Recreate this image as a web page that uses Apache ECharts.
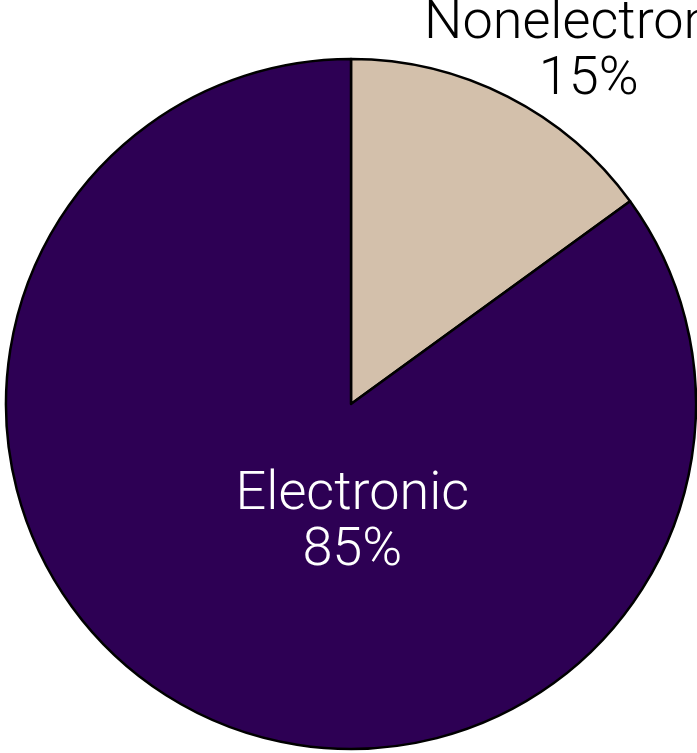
<!DOCTYPE html>
<html>
<head>
<meta charset="utf-8">
<script src="https://cdn.jsdelivr.net/npm/echarts@6/dist/echarts.min.js"></script>
<style>
  html, body { margin: 0; padding: 0; background: #ffffff; }
  #chart { width: 697px; height: 753px; }
</style>
</head>
<body>
<div id="chart"></div>
<script>
// Share of transactions by type
const categories = ['Nonelectronic', 'Electronic'];
const shares = [15, 85];
const sliceColors = ['#D3C0AB', '#2D0054'];
const labelColors = ['#000000', '#ffffff'];
// label offsets from the slice's default inside-label anchor
const labelOffsets = [[158, -195], [81, -37]];

const chart = echarts.init(document.getElementById('chart'), null, { renderer: 'canvas' });

chart.setOption({
  animation: false,
  backgroundColor: '#ffffff',
  series: [{
    type: 'pie',
    center: [351, 404],
    radius: [0, 345],
    startAngle: 90,
    clockwise: true,
    avoidLabelOverlap: false,
    labelLine: { show: false },
    emphasis: { disabled: true },
    data: categories.map((name, i) => ({
      name: name,
      value: shares[i],
      itemStyle: { color: sliceColors[i], borderColor: '#000000', borderWidth: 2.5 },
      label: {
        show: true,
        position: 'inside',
        formatter: '{b}\n{d}%',
        offset: labelOffsets[i],
        color: labelColors[i],
        fontFamily: 'Roboto, "Liberation Sans", Arial, sans-serif',
        fontWeight: 300,
        fontSize: 54,
        lineHeight: 56,
        align: 'center'
      }
    }))
  }]
});
</script>
</body>
</html>
